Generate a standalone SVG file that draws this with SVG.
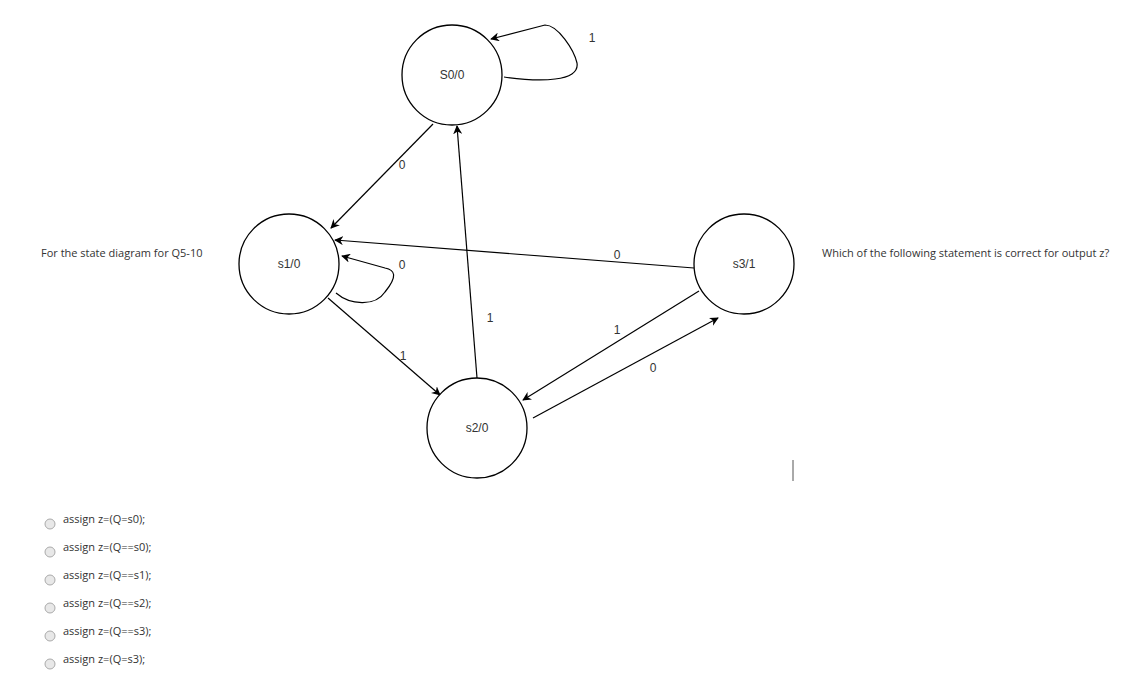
<svg xmlns="http://www.w3.org/2000/svg" width="1148" height="694" viewBox="0 0 1148 694">
<style>
.n{fill:#fff;stroke:#000;stroke-width:1.3}
.e{fill:none;stroke:#000;stroke-width:1.2;marker-end:url(#a)}
.t{font-family:"Liberation Sans",Arial,sans-serif;font-size:12px;fill:#333;text-anchor:middle}
.q{font-family:"Open Sans",sans-serif;font-size:11px;fill:#333}
.r{fill:#e8e8e8;stroke:#aaa;stroke-width:1}
</style>
<defs><marker id="a" viewBox="0 0 10 10" refX="9" refY="5" markerWidth="9" markerHeight="9" markerUnits="userSpaceOnUse" orient="auto"><path d="M0,0 L10,5 L0,10 L3,5 Z" fill="#000"/></marker></defs>
<rect width="1148" height="694" fill="#fff"/>
<g id="connectors">
<path class="e" d="M504,77 C540,82 580,82 577,63 C574,50 558,25 545,25 L491,39"/>
<path class="e" d="M433,124 L331,228"/>
<path class="e" d="M477,378 L457,126"/>
<path class="e" d="M694,268 L335,240"/>
<path class="e" d="M336,293 C350,305 375,307 385,292 C398,276 395,270 385,268 L342,256"/>
<path class="e" d="M328,298 L440,395"/>
<path class="e" d="M699,291 L523,400"/>
<path class="e" d="M533,418 L718,318"/>
<text class="t" x="592" y="42">1</text>
<text class="t" x="402" y="169">0</text>
<text class="t" x="402" y="269">0</text>
<text class="t" x="617" y="259">0</text>
<text class="t" x="490" y="322">1</text>
<text class="t" x="617" y="334">1</text>
<text class="t" x="653" y="372">0</text>
<text class="t" x="403" y="360">1</text>
</g>
<g id="S0"><circle class="n" cx="452" cy="75" r="50"/><text class="t" x="452" y="79">S0/0</text></g>
<g id="s1"><circle class="n" cx="289" cy="264" r="50"/><text class="t" x="289" y="268">s1/0</text></g>
<g id="s2"><circle class="n" cx="477" cy="428" r="50"/><text class="t" x="477" y="432">s2/0</text></g>
<g id="s3"><circle class="n" cx="744" cy="264" r="50"/><text class="t" x="744" y="268">s3/1</text></g>
<text class="q" x="41" y="257">For the state diagram for Q5-10</text>
<text class="q" x="822" y="257">Which of the following statement is correct for output z?</text>
<line x1="793" y1="460" x2="793" y2="481" stroke="#555" stroke-width="1"/>
<g id="options">
<circle class="r" cx="50" cy="524" r="5"/><text class="q" x="63" y="523">assign z=(Q=s0);</text>
<circle class="r" cx="50" cy="552" r="5"/><text class="q" x="63" y="551">assign z=(Q==s0);</text>
<circle class="r" cx="50" cy="580" r="5"/><text class="q" x="63" y="579">assign z=(Q==s1);</text>
<circle class="r" cx="50" cy="608" r="5"/><text class="q" x="63" y="607">assign z=(Q==s2);</text>
<circle class="r" cx="50" cy="636" r="5"/><text class="q" x="63" y="635">assign z=(Q==s3);</text>
<circle class="r" cx="50" cy="664" r="5"/><text class="q" x="63" y="663">assign z=(Q=s3);</text>
</g>
</svg>
